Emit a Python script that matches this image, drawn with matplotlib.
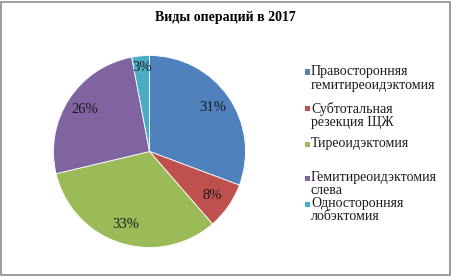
import matplotlib
matplotlib.use("Agg")
import matplotlib.pyplot as plt
from matplotlib.patches import Rectangle

title = "Виды операций в 2017"
categories = ["Правосторонняя\nгемитиреоидэктомия", "Субтотальная\nрезекция ЩЖ",
              "Тиреоидэктомия", "Гемитиреоидэктомия\nслева", "Односторонняя\nлобэктомия"]
values = [31, 8, 33, 26, 3]
labels = ["31%", "8%", "33%", "26%", "3%"]
colors = ["#4F81BD", "#C0504D", "#9BBB59", "#8064A2", "#4BACC6"]

W, H = 452, 277
fig = plt.figure(figsize=(W / 100, H / 100), dpi=100)
fig.patch.set_facecolor("white")
font = "Liberation Serif"

# frame
fig.patches.append(Rectangle((1.5 / W, 1 - 274.5 / H), 448.5 / W, 272.5 / H,
                             transform=fig.transFigure, fill=False,
                             edgecolor="#8c8c8c", linewidth=1.2))

fig.text(225 / W, 1 - 17 / H, title, ha="center", va="center",
         fontsize=10, fontweight="bold", family=font)

cx, cy, r = 149.5, 151.5, 96
ax = fig.add_axes([(cx - r) / W, 1 - (cy + r) / H, 2 * r / W, 2 * r / H])
wedges, texts = ax.pie(values, colors=colors, startangle=90, counterclock=False,
                       labels=labels, labeldistance=0.8,
                       wedgeprops=dict(edgecolor="white", linewidth=0.6),
                       textprops=dict(fontsize=10.5, family=font, color="#1a1a1a"))
for t in texts:
    t.set_ha("center")
    t.set_va("center")
ax.set_aspect("equal")
ax.set_xlim(-1, 1)
ax.set_ylim(-1, 1)
# 3% label sits near the edge in the reference
px, py = texts[4].get_position()
texts[4].set_position((px * 1.1, py * 1.1))

leg_y = [72, 109, 144, 178, 204]
for yy, cat, col in zip(leg_y, categories, colors):
    fig.patches.append(Rectangle((305 / W, 1 - (yy + 2.5) / H), 5 / W, 5 / H,
                                 transform=fig.transFigure, facecolor=col, edgecolor="none"))
    fig.text(311 / W, 1 - (yy - 6.5) / H, cat, ha="left", va="top",
             fontsize=10, family=font, color="#1a1a1a", linespacing=1.0)

fig.savefig("out.png", dpi=100, facecolor="white")
